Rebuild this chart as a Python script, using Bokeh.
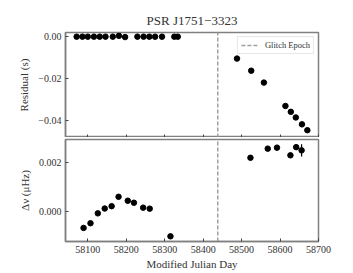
from bokeh.plotting import figure
from bokeh.models import (Range1d, FixedTicker, CustomJSTickFormatter,
                          Legend, LegendItem, ColumnDataSource)
from bokeh.layouts import column
from bokeh.embed import file_html
from bokeh.resources import INLINE

# ---------------- data ----------------
GLITCH_MJD = 58438
X_TICKS = [58100, 58200, 58300, 58400, 58500, 58600, 58700]
RES_TICKS = [0.0, -0.02, -0.04]
NU_TICKS = [0.0, 0.002]

pre_res_mjd = [58071, 58086, 58100, 58116, 58131, 58146, 58165, 58181, 58197,
               58229, 58245, 58260, 58275, 58293, 58325, 58334]
pre_res = [0.0, 0.0, 0.0, 0.0, 0.0, 0.0, 0.0, 0.0004, -0.0002,
           0.0, 0.0, 0.0, 0.0, 0.0, 0.0, 0.0]
pre_res_err = [0.0001] * 16

post_res_mjd = [58488, 58525, 58558, 58614, 58628, 58641, 58657, 58671]
post_res = [-0.0105, -0.0163, -0.0220, -0.0332, -0.0360, -0.0387, -0.0420, -0.0448]
post_res_err = [0.0002, 0.0002, 0.0002, 0.0004, 0.0002, 0.0002, 0.0007, 0.0003]

nu_mjd = [58089, 58107, 58126, 58144, 58162, 58180, 58204, 58220, 58244, 58261,
          58315, 58523, 58568, 58592, 58627, 58642, 58656]
nu_val = [-0.00065, -0.00046, -0.00006, 0.000135, 0.00023, 0.00061, 0.00045,
          0.00037, 0.00017, 0.00013, -0.00099, 0.00219, 0.00256, 0.00260,
          0.00229, 0.00262, 0.00249]
nu_err = [0.00003, 0.00003, 0.00003, 0.00003, 0.00003, 0.00003, 0.00003,
          0.00003, 0.00003, 0.00003, 0.00003, 0.00003, 0.00004, 0.00004,
          0.00009, 0.00012, 0.00025]

X_RANGE = (58042, 58700)
RES_RANGE = (-0.0483, 0.002)
NU_RANGE = (-0.0012, 0.00293)

FONT = "Liberation Serif"
TXT = "#333333"
FRAME = "#808080"
GLITCH_COLOR = "#a0a0a0"


def style(p):
    p.outline_line_color = FRAME
    p.outline_line_width = 1.5
    p.xgrid.visible = False
    p.ygrid.visible = False
    p.background_fill_color = "white"
    p.border_fill_color = "white"
    for ax in p.xaxis + p.yaxis:
        ax.axis_line_color = FRAME
        ax.axis_line_width = 1.5
        ax.major_tick_in = 3
        ax.major_tick_out = 0
        ax.minor_tick_line_color = None
        ax.major_tick_line_color = "#444444"
        ax.major_label_text_font = FONT
        ax.major_label_text_font_size = "10px"
        ax.major_label_text_color = TXT
        ax.axis_label_text_font = FONT
        ax.axis_label_text_font_size = "11px"
        ax.axis_label_text_font_style = "normal"
        ax.axis_label_text_color = TXT
        ax.major_label_standoff = 4
        ax.axis_label_standoff = 5


def errbars(p, xs, ys, es):
    src = ColumnDataSource(dict(x=xs, lo=[y - e for y, e in zip(ys, es)],
                                hi=[y + e for y, e in zip(ys, es)]))
    p.segment(x0="x", y0="lo", x1="x", y1="hi", source=src,
              line_color="black", line_width=1.2)


def glitch_line(p, yr):
    return p.line([GLITCH_MJD, GLITCH_MJD], list(yr), line_color=GLITCH_COLOR,
                  line_dash="4 2", line_width=1.5)


# ---------------- top panel ----------------
top = figure(width=352, height=137, output_backend="svg", toolbar_location=None,
             x_range=Range1d(*X_RANGE), y_range=Range1d(*RES_RANGE),
             min_border_left=65, min_border_right=34, min_border_top=32,
             min_border_bottom=0)
top.title.text = "PSR J1751\u22123323"
top.title.align = "center"
top.title.text_font = FONT
top.title.text_font_size = "13px"
top.title.text_font_style = "normal"
top.title.text_color = TXT
top.title.standoff = 10
style(top)
top.xaxis.ticker = FixedTicker(ticks=X_TICKS)
top.xaxis.formatter = CustomJSTickFormatter(code="return '';")
top.xaxis.major_label_standoff = 0
top.yaxis.ticker = FixedTicker(ticks=RES_TICKS)
top.yaxis.formatter = CustomJSTickFormatter(
    code="return (tick < -1e-12 ? '\u2212' : '') + Math.abs(tick).toFixed(2);")
top.yaxis.axis_label = "Residual (s)"

leg_r = glitch_line(top, RES_RANGE)
errbars(top, pre_res_mjd, pre_res, pre_res_err)
errbars(top, post_res_mjd, post_res, post_res_err)
top.scatter(pre_res_mjd, pre_res, size=5.5, color="black")
top.scatter(post_res_mjd, post_res, size=5.5, color="black")

legend = Legend(items=[LegendItem(label="Glitch Epoch", renderers=[leg_r])],
                location="top_right", label_text_font=FONT,
                label_text_font_size="8.5px", label_text_color=TXT,
                glyph_width=17, glyph_height=8, label_standoff=7, padding=3,
                margin=4, spacing=0, border_line_color="#d0d0d0",
                border_line_width=1, background_fill_color="white",
                background_fill_alpha=1.0)
top.add_layout(legend)

# ---------------- bottom panel ----------------
bot = figure(width=352, height=135, output_backend="svg", toolbar_location=None,
             x_range=top.x_range, y_range=Range1d(*NU_RANGE),
             min_border_left=65, min_border_right=34, min_border_top=2,
             min_border_bottom=29)
style(bot)
bot.xaxis.ticker = FixedTicker(ticks=X_TICKS)
bot.xaxis.axis_label = "Modified Julian Day"
bot.xaxis.axis_label_standoff = 2
bot.xaxis.major_label_standoff = 4
bot.yaxis.ticker = FixedTicker(ticks=NU_TICKS)
bot.yaxis.formatter = CustomJSTickFormatter(
    code="return (tick < -1e-12 ? '\u2212' : '') + Math.abs(tick).toFixed(3);")
bot.yaxis.axis_label = "\u0394\u03bd (\u03bcHz)"

glitch_line(bot, NU_RANGE)
errbars(bot, nu_mjd, nu_val, nu_err)
bot.scatter(nu_mjd, nu_val, size=5.5, color="black")

layout = column(top, bot, spacing=0)
open("out.html", "w").write(file_html(layout, INLINE))
